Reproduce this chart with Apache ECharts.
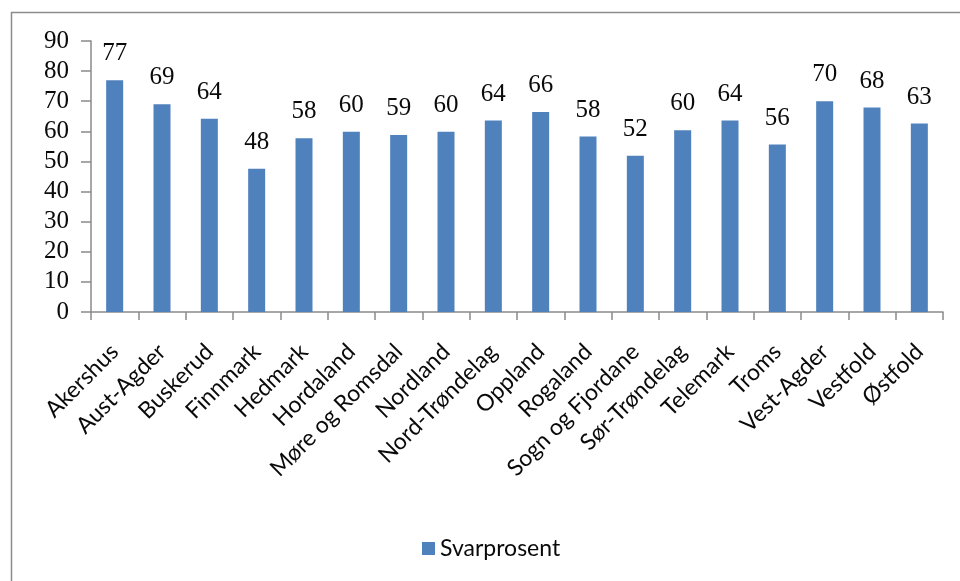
<!DOCTYPE html>
<html>
<head>
<meta charset="utf-8">
<script src="https://cdn.jsdelivr.net/npm/echarts@6/dist/echarts.min.js"></script>
<style>
  html, body { margin: 0; padding: 0; background: #ffffff; }
  #chart { width: 960px; height: 581px; }
</style>
</head>
<body>
<div id="chart"></div>
<script>
const categories = ['Akershus', 'Aust-Agder', 'Buskerud', 'Finnmark', 'Hedmark', 'Hordaland',
  'Møre og Romsdal', 'Nordland', 'Nord-Trøndelag', 'Oppland', 'Rogaland', 'Sogn og Fjordane',
  'Sør-Trøndelag', 'Telemark', 'Troms', 'Vest-Agder', 'Vestfold', 'Østfold'];
const svarprosent = [77.0, 69.0, 64.2, 47.6, 57.7, 59.9, 58.8, 59.9, 63.6, 66.4, 58.3, 51.9,
  60.4, 63.6, 55.6, 70.0, 67.9, 62.6];
const seriesName = 'Svarprosent';
const yMin = 0, yMax = 90, yStep = 10;

const chart = echarts.init(document.getElementById('chart'), null, { renderer: 'canvas' });
const axisColor = '#8a8a8a';
chart.setOption({
  animation: false,
  backgroundColor: '#ffffff',
  graphic: [
    { type: 'line', shape: { x1: 11, y1: 12.5, x2: 960, y2: 12.5 }, style: { stroke: '#8c8c8c', lineWidth: 1.5 } },
    { type: 'line', shape: { x1: 11.5, y1: 12, x2: 11.5, y2: 581 }, style: { stroke: '#8c8c8c', lineWidth: 1.5 } }
  ],
  grid: { left: 91, right: 17, top: 41, bottom: 269, containLabel: false },
  legend: {
    data: [seriesName],
    left: 417, top: 532,
    itemWidth: 13, itemHeight: 13, itemGap: 10,
    icon: 'rect',
    textStyle: { fontFamily: 'Lato', fontSize: 23, color: '#0a0a0a', padding: [0, 0, 0, 0] }
  },
  xAxis: {
    type: 'category',
    data: categories,
    boundaryGap: true,
    axisLine: { show: true, lineStyle: { color: axisColor, width: 1.5 } },
    axisTick: { show: true, length: 8, alignWithLabel: false, lineStyle: { color: axisColor, width: 1.5 } },
    axisLabel: {
      interval: 0, rotate: 45, margin: 36,
      fontFamily: 'Lato', fontSize: 23, color: '#0a0a0a'
    },
    splitLine: { show: false }
  },
  yAxis: {
    type: 'value',
    min: yMin, max: yMax, interval: yStep,
    axisLine: { show: true, lineStyle: { color: axisColor, width: 1.5 } },
    axisTick: { show: true, inside: false, length: 10, lineStyle: { color: axisColor, width: 1.5 } },
    axisLabel: { margin: 22, fontFamily: 'Liberation Serif', fontSize: 25, color: '#0a0a0a' },
    splitLine: { show: false }
  },
  series: [{
    name: seriesName,
    type: 'bar',
    data: svarprosent,
    barWidth: 17,
    itemStyle: { color: '#4F81BD' },
    label: {
      show: true, position: 'top', distance: 14,
      fontFamily: 'Liberation Serif', fontSize: 25, color: '#0a0a0a',
      formatter: p => Math.round(p.value)
    }
  }]
});
</script>
</body>
</html>
